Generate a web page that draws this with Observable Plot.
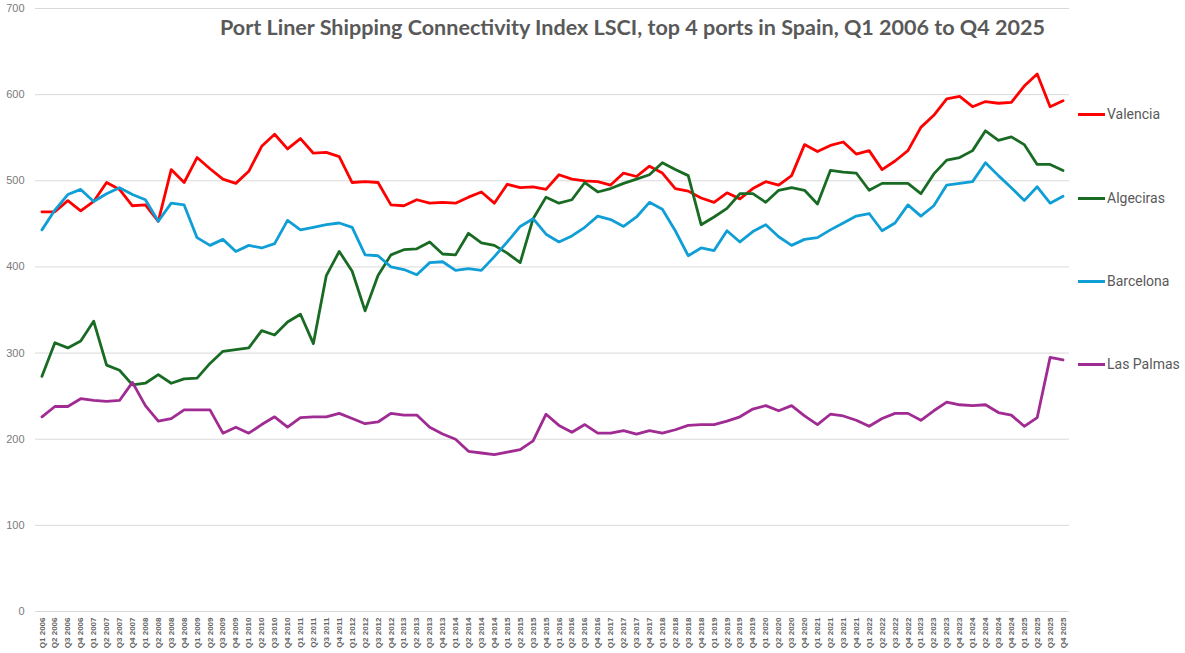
<!DOCTYPE html>
<html>
<head>
<meta charset="utf-8">
<script src="https://cdn.jsdelivr.net/npm/d3@7"></script>
<script src="https://cdn.jsdelivr.net/npm/@observablehq/plot@0.6"></script>
<style>
  html, body { margin: 0; padding: 0; background: #fff; }
  #chart { position: relative; width: 1185px; height: 653px; overflow: hidden; }
  #chart svg { display: block; }
  #title { position: absolute; left: 220px; top: 14px; font: bold 21.5px Lato, "Liberation Sans", sans-serif; color: #595959; white-space: nowrap; transform-origin: 0 0; }
  .lg { position: absolute; left: 1078px; height: 20px; line-height: 20px; font: 14px/20px Roboto, sans-serif; color: #595959; white-space: nowrap; }
  .lg i { display: inline-block; width: 27px; height: 3px; vertical-align: middle; margin-right: 2px; position: relative; top: -1px; }
</style>
</head>
<body>
<div id="chart"></div>
<script>
const years = d3.range(2006, 2026);
const quarters = years.flatMap(y => ["Q1", "Q2", "Q3", "Q4"].map(q => `${q} ${y}`));

const valencia = [
  464,464,477,465, 476,498,490,471, 472,453,513,498, 527,514,502,497,
  511,540,554,537, 549,532,533,528, 498,499,498,472, 471,478,474,475,
  474,481,487,474, 496,492,493,490, 507,502,500,499, 495,509,505,517,
  509,491,488,480, 475,486,479,491, 499,495,506,542, 534,541,545,531,
  535,513,523,535, 562,576,595,598, 586,592,590,591, 610,624,586,593
];
const algeciras = [
  273,312,306,314, 337,286,280,263, 265,275,265,270, 271,288,302,304,
  306,326,321,336, 345,311,390,418, 395,349,390,414, 420,421,429,415,
  414,439,428,425, 416,405,456,481, 474,478,498,487, 491,497,502,507,
  521,513,506,449, 458,468,485,485, 475,489,492,489, 473,512,510,509,
  489,497,497,497, 485,508,524,527, 535,558,547,551, 542,519,519,512
];
const barcelona = [
  443,466,484,490, 476,485,492,484, 478,453,474,472, 434,425,432,418,
  425,422,427,454, 443,446,449,451, 446,414,413,400, 397,391,405,406,
  396,398,396,412, 429,447,456,438, 429,436,446,459, 455,447,458,475,
  467,442,413,422, 419,442,429,441, 449,435,425,432, 434,443,451,459,
  462,442,451,472, 459,471,495,497, 499,521,506,492, 477,493,474,482
];
const lasPalmas = [
  226,238,238,247, 245,244,245,266, 239,221,224,234, 234,234,207,214,
  207,217,226,214, 225,226,226,230, 224,218,220,230, 228,228,214,206,
  200,186,184,182, 185,188,198,229, 216,208,217,207, 207,210,206,210,
  207,211,216,217, 217,221,226,235, 239,233,239,227, 217,229,227,222,
  215,224,230,230, 222,233,243,240, 239,240,231,228, 215,225,295,292
];

const ports = ["Valencia", "Algeciras", "Barcelona", "Las Palmas"];
const portValues = [valencia, algeciras, barcelona, lasPalmas];
const portColors = ["#ff0000", "#196b24", "#0f9ed5", "#a02b93"];
const yTicks = [0, 100, 200, 300, 400, 500, 600, 700];
const titleText = "Port Liner Shipping Connectivity Index LSCI, top 4 ports in Spain, Q1 2006 to Q4 2025";

const rows = ports.flatMap((port, i) =>
  quarters.map((q, j) => ({ port, q, v: portValues[i][j] })));

const plot = Plot.plot({
  width: 1185,
  height: 653,
  marginLeft: 35,
  marginRight: 116,
  marginTop: 8,
  marginBottom: 42,
  style: { background: "#fff", overflow: "visible" },
  x: { type: "point", domain: quarters, padding: 0.5, label: null },
  y: { domain: [0, 700], label: null },
  color: { domain: ports, range: portColors },
  marks: [
    Plot.ruleY(yTicks, { stroke: "#d9d9d9", strokeWidth: 1 }),
    Plot.axisY({
      ticks: yTicks, tickSize: 0, tickPadding: 11, label: null,
      fontSize: 11, fill: "#7a7a7a", fontFamily: "Liberation Sans, sans-serif"
    }),
    Plot.axisX({
      tickSize: 0, tickPadding: 6, tickRotate: -90, label: null,
      fontSize: 8, fontWeight: "bold", fill: "#666666",
      fontFamily: "Liberation Sans, sans-serif"
    }),
    Plot.line(rows, {
      x: "q", y: "v", z: "port", stroke: "port",
      strokeWidth: 2.8, strokeLinejoin: "round", strokeLinecap: "round", curve: "linear"
    })
  ]
});

const chart = document.getElementById("chart");
chart.appendChild(plot);

const title = document.createElement("div");
title.id = "title";
title.textContent = titleText;
chart.appendChild(title);
// Fit the title to the reference's 825px span with an installed font.
const w = title.getBoundingClientRect().width;
title.style.transform = `scaleX(${825 / w})`;

const legendTops = [104, 188, 271, 354];
ports.forEach((port, i) => {
  const d = document.createElement("div");
  d.className = "lg";
  d.style.top = legendTops[i] + "px";
  const sw = document.createElement("i");
  sw.style.background = portColors[i];
  d.appendChild(sw);
  d.appendChild(document.createTextNode(port));
  chart.appendChild(d);
});
</script>
</body>
</html>
